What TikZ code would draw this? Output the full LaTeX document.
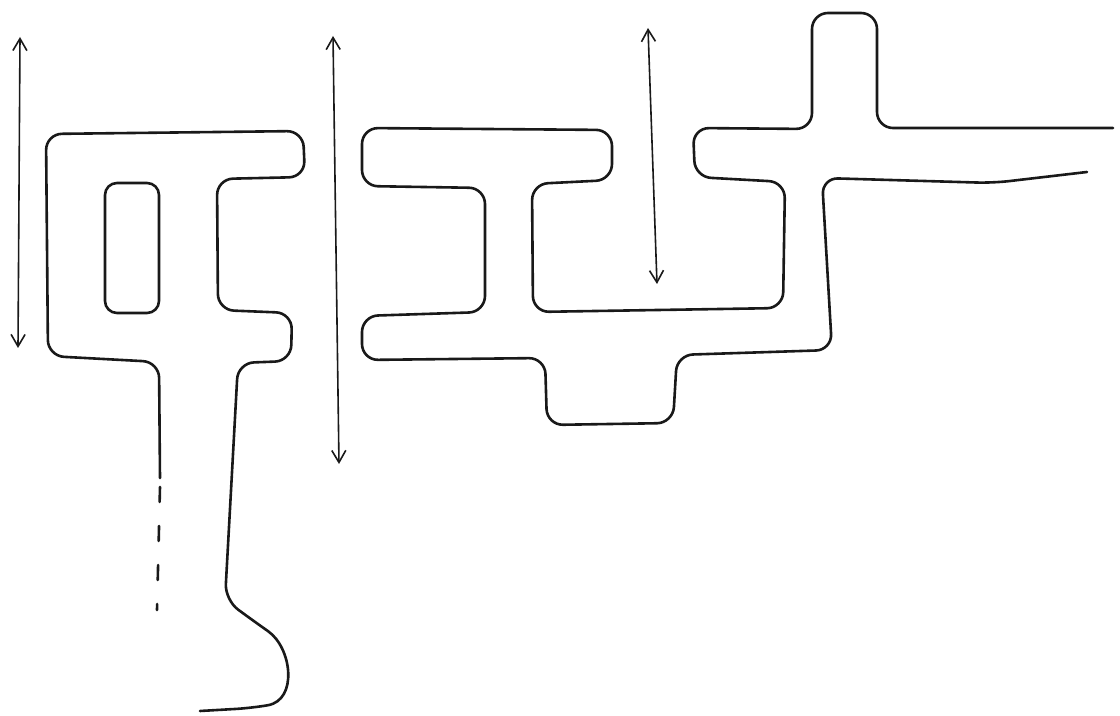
\documentclass[tikz,border=0pt]{standalone}
\usetikzlibrary{arrows.meta}
\begin{document}
\begin{tikzpicture}[x=0.5pt,y=-0.5pt,
  wall/.style={line width=1.3pt, line join=round, line cap=round, rounded corners=8pt, black!90},
  dimarrow/.style={line width=0.8pt, black!90, {Straight Barb[length=6pt,width=7pt]}-{Straight Barb[length=6pt,width=7pt]}}]
\useasboundingbox (0,0) rectangle (1120,716);
% arrows
\coordinate (a1t) at (20,37); \coordinate (a1b) at (18,348);
\coordinate (a2t) at (333,36); \coordinate (a2b) at (339,464);
\coordinate (a3t) at (648,28); \coordinate (a3b) at (657,284);
\draw[dimarrow] (a1t) -- (a1b);
\draw[dimarrow] (a2t) -- (a2b);
\draw[dimarrow] (a3t) -- (a3b);
% left shape
\draw[wall] (160,478) -- (159,362) -- (48,356) -- (46,134) -- (303,131) -- (305,177) -- (217,179)
  -- (218,310) -- (292,313) -- (291,361) -- (238,363) -- (225,600) -- (255,622)
  .. controls (292,648) and (298,700) .. (252,708) -- (200,711);
\draw[wall, dash pattern=on 7.5pt off 12pt] (160,487) -- (157,610);
\draw[wall, rounded corners=6pt] (105,183) rectangle (159,313);
% right shape
\draw[wall] (1113,128) -- (877,128) -- (877,13) -- (812,13) -- (812,129) -- (693,128) -- (695,177)
  -- (785,182) -- (783,308) -- (533,312) -- (532,184) -- (612,180) -- (612,130) -- (362,128)
  -- (362,186) -- (485,188) -- (485,312) -- (362,316) -- (362,360) -- (545,358) -- (547,425)
  -- (673,423) -- (677,355) -- (832,350) -- (822,178) -- (993,183) -- (1087,172);
\end{tikzpicture}
\end{document}
